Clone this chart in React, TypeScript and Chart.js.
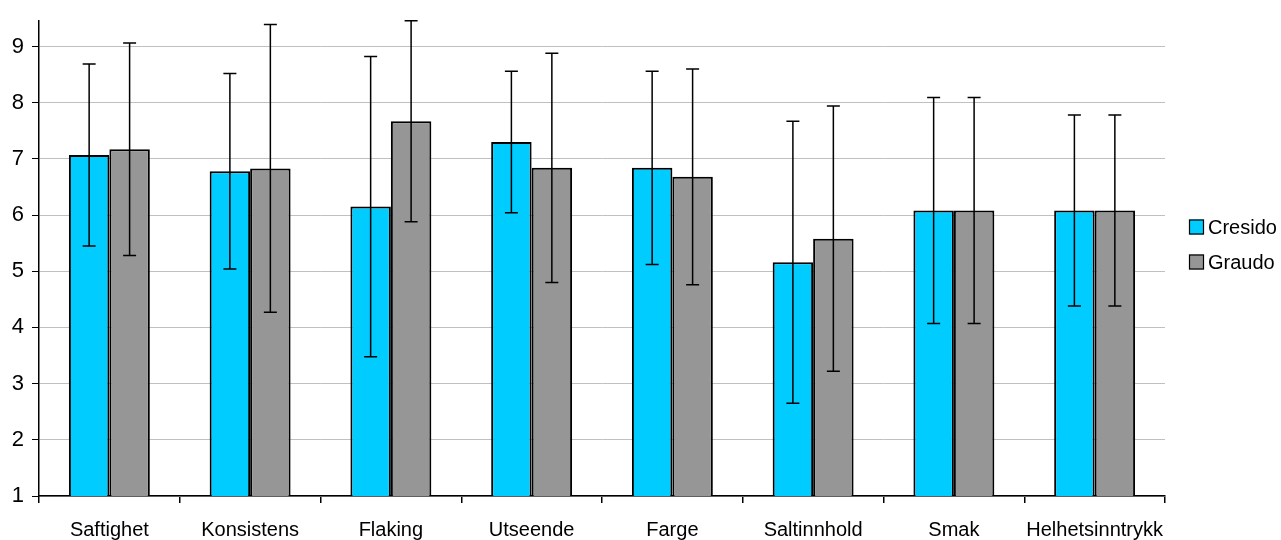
import React, { useEffect, useRef } from "react";
import { Chart, registerables } from "chart.js";

Chart.register(...registerables);

const categories = ["Saftighet", "Konsistens", "Flaking", "Utseende", "Farge", "Saltinnhold", "Smak", "Helhetsinntrykk"];
const seriesNames = ["Cresido", "Graudo"];
const cresidoMeans = [7.07, 6.78, 6.15, 7.3, 6.84, 5.16, 6.08, 6.08];
const cresidoSD = [1.62, 1.74, 2.67, 1.26, 1.72, 2.51, 2.01, 1.7];
const graudoMeans = [7.17, 6.83, 7.67, 6.84, 6.68, 5.58, 6.08, 6.08];
const graudoSD = [1.89, 2.56, 1.79, 2.04, 1.92, 2.36, 2.01, 1.7];
const yTickValues = [1, 2, 3, 4, 5, 6, 7, 8, 9];
const yMin = 1;
const yMax = 9.45;

const FONT = "'Liberation Sans', Arial, sans-serif";

const errorBarPlugin = {
  id: "errorBars",
  afterDatasetsDraw(chart: any) {
    const ctx = chart.ctx;
    const yScale = chart.scales.y;
    ctx.save();
    ctx.strokeStyle = "#000";
    ctx.lineWidth = 1.5;
    chart.data.datasets.forEach((ds: any, i: number) => {
      const meta = chart.getDatasetMeta(i);
      meta.data.forEach((bar: any, j: number) => {
        const m = ds.data[j];
        const e = ds.errors[j];
        const x = bar.x;
        const yt = yScale.getPixelForValue(m + e);
        const yb = yScale.getPixelForValue(m - e);
        ctx.beginPath();
        ctx.moveTo(x, yt);
        ctx.lineTo(x, yb);
        ctx.moveTo(x - 6.5, yt);
        ctx.lineTo(x + 6.5, yt);
        ctx.moveTo(x - 6.5, yb);
        ctx.lineTo(x + 6.5, yb);
        ctx.stroke();
      });
    });
    ctx.restore();
  },
};

const legendPlugin = {
  id: "customLegend",
  afterDraw(chart: any) {
    const ctx = chart.ctx;
    ctx.save();
    ctx.font = `20px ${FONT}`;
    ctx.textBaseline = "middle";
    ctx.textAlign = "left";
    const x0 = chart.chartArea.right + 24;
    const yc = [227, 262];
    chart.data.datasets.forEach((ds: any, i: number) => {
      const y = yc[i];
      ctx.fillStyle = ds.backgroundColor;
      ctx.fillRect(x0, y - 7.5, 15, 15);
      ctx.strokeStyle = "#000";
      ctx.lineWidth = 1.2;
      ctx.strokeRect(x0 + 0.5, y - 7, 14, 14);
      ctx.fillStyle = "#000";
      ctx.fillText(ds.label, x0 + 19, y + 1);
    });
    ctx.restore();
  },
};

export default function App() {
  const ref = useRef<HTMLCanvasElement>(null);
  useEffect(() => {
    document.body.style.margin = "0";
    const chart = new Chart(ref.current!, {
      type: "bar",
      data: {
        labels: categories,
        datasets: [
          {
            label: seriesNames[0],
            data: cresidoMeans,
            errors: cresidoSD,
            backgroundColor: "#00CCFF",
            borderColor: "#000",
            borderWidth: 2,
            categoryPercentage: 0.575,
            barPercentage: 1,
          } as any,
          {
            label: seriesNames[1],
            data: graudoMeans,
            errors: graudoSD,
            backgroundColor: "#969696",
            borderColor: "#000",
            borderWidth: 2,
            categoryPercentage: 0.575,
            barPercentage: 1,
          } as any,
        ],
      },
      options: {
        animation: false,
        responsive: false,
        layout: { padding: { top: 17, right: 116, left: 0, bottom: 0 } },
        plugins: { legend: { display: false }, tooltip: { enabled: false } },
        scales: {
          x: {
            afterFit: (s: any) => {
              s.height = 44;
            },
            grid: {
              offset: true,
              drawOnChartArea: false,
              drawTicks: true,
              tickLength: 7,
              color: "#000",
              lineWidth: 1.5,
            },
            border: { display: true, color: "#000", width: 1.5 },
            ticks: {
              font: { family: FONT, size: 20 },
              color: "#000",
              padding: 15,
              maxRotation: 0,
              autoSkip: false,
            },
          },
          y: {
            min: yMin,
            max: yMax,
            afterBuildTicks: (s: any) => {
              s.ticks = yTickValues.map((v) => ({ value: v }));
            },
            afterFit: (s: any) => {
              s.width = 39;
            },
            grid: {
              color: "#C0C0C0",
              tickColor: "#000",
              tickLength: 7,
              lineWidth: 1,
            },
            border: { display: true, color: "#000", width: 1.5 },
            ticks: {
              font: { family: FONT, size: 22 },
              color: "#000",
              padding: 8,
            },
          },
        },
      } as any,
      plugins: [errorBarPlugin, legendPlugin],
    });
    return () => chart.destroy();
  }, []);
  return (
    <canvas
      ref={ref}
      width={1281}
      height={540}
      style={{ display: "block", width: "1281px", height: "540px" }}
    />
  );
}
